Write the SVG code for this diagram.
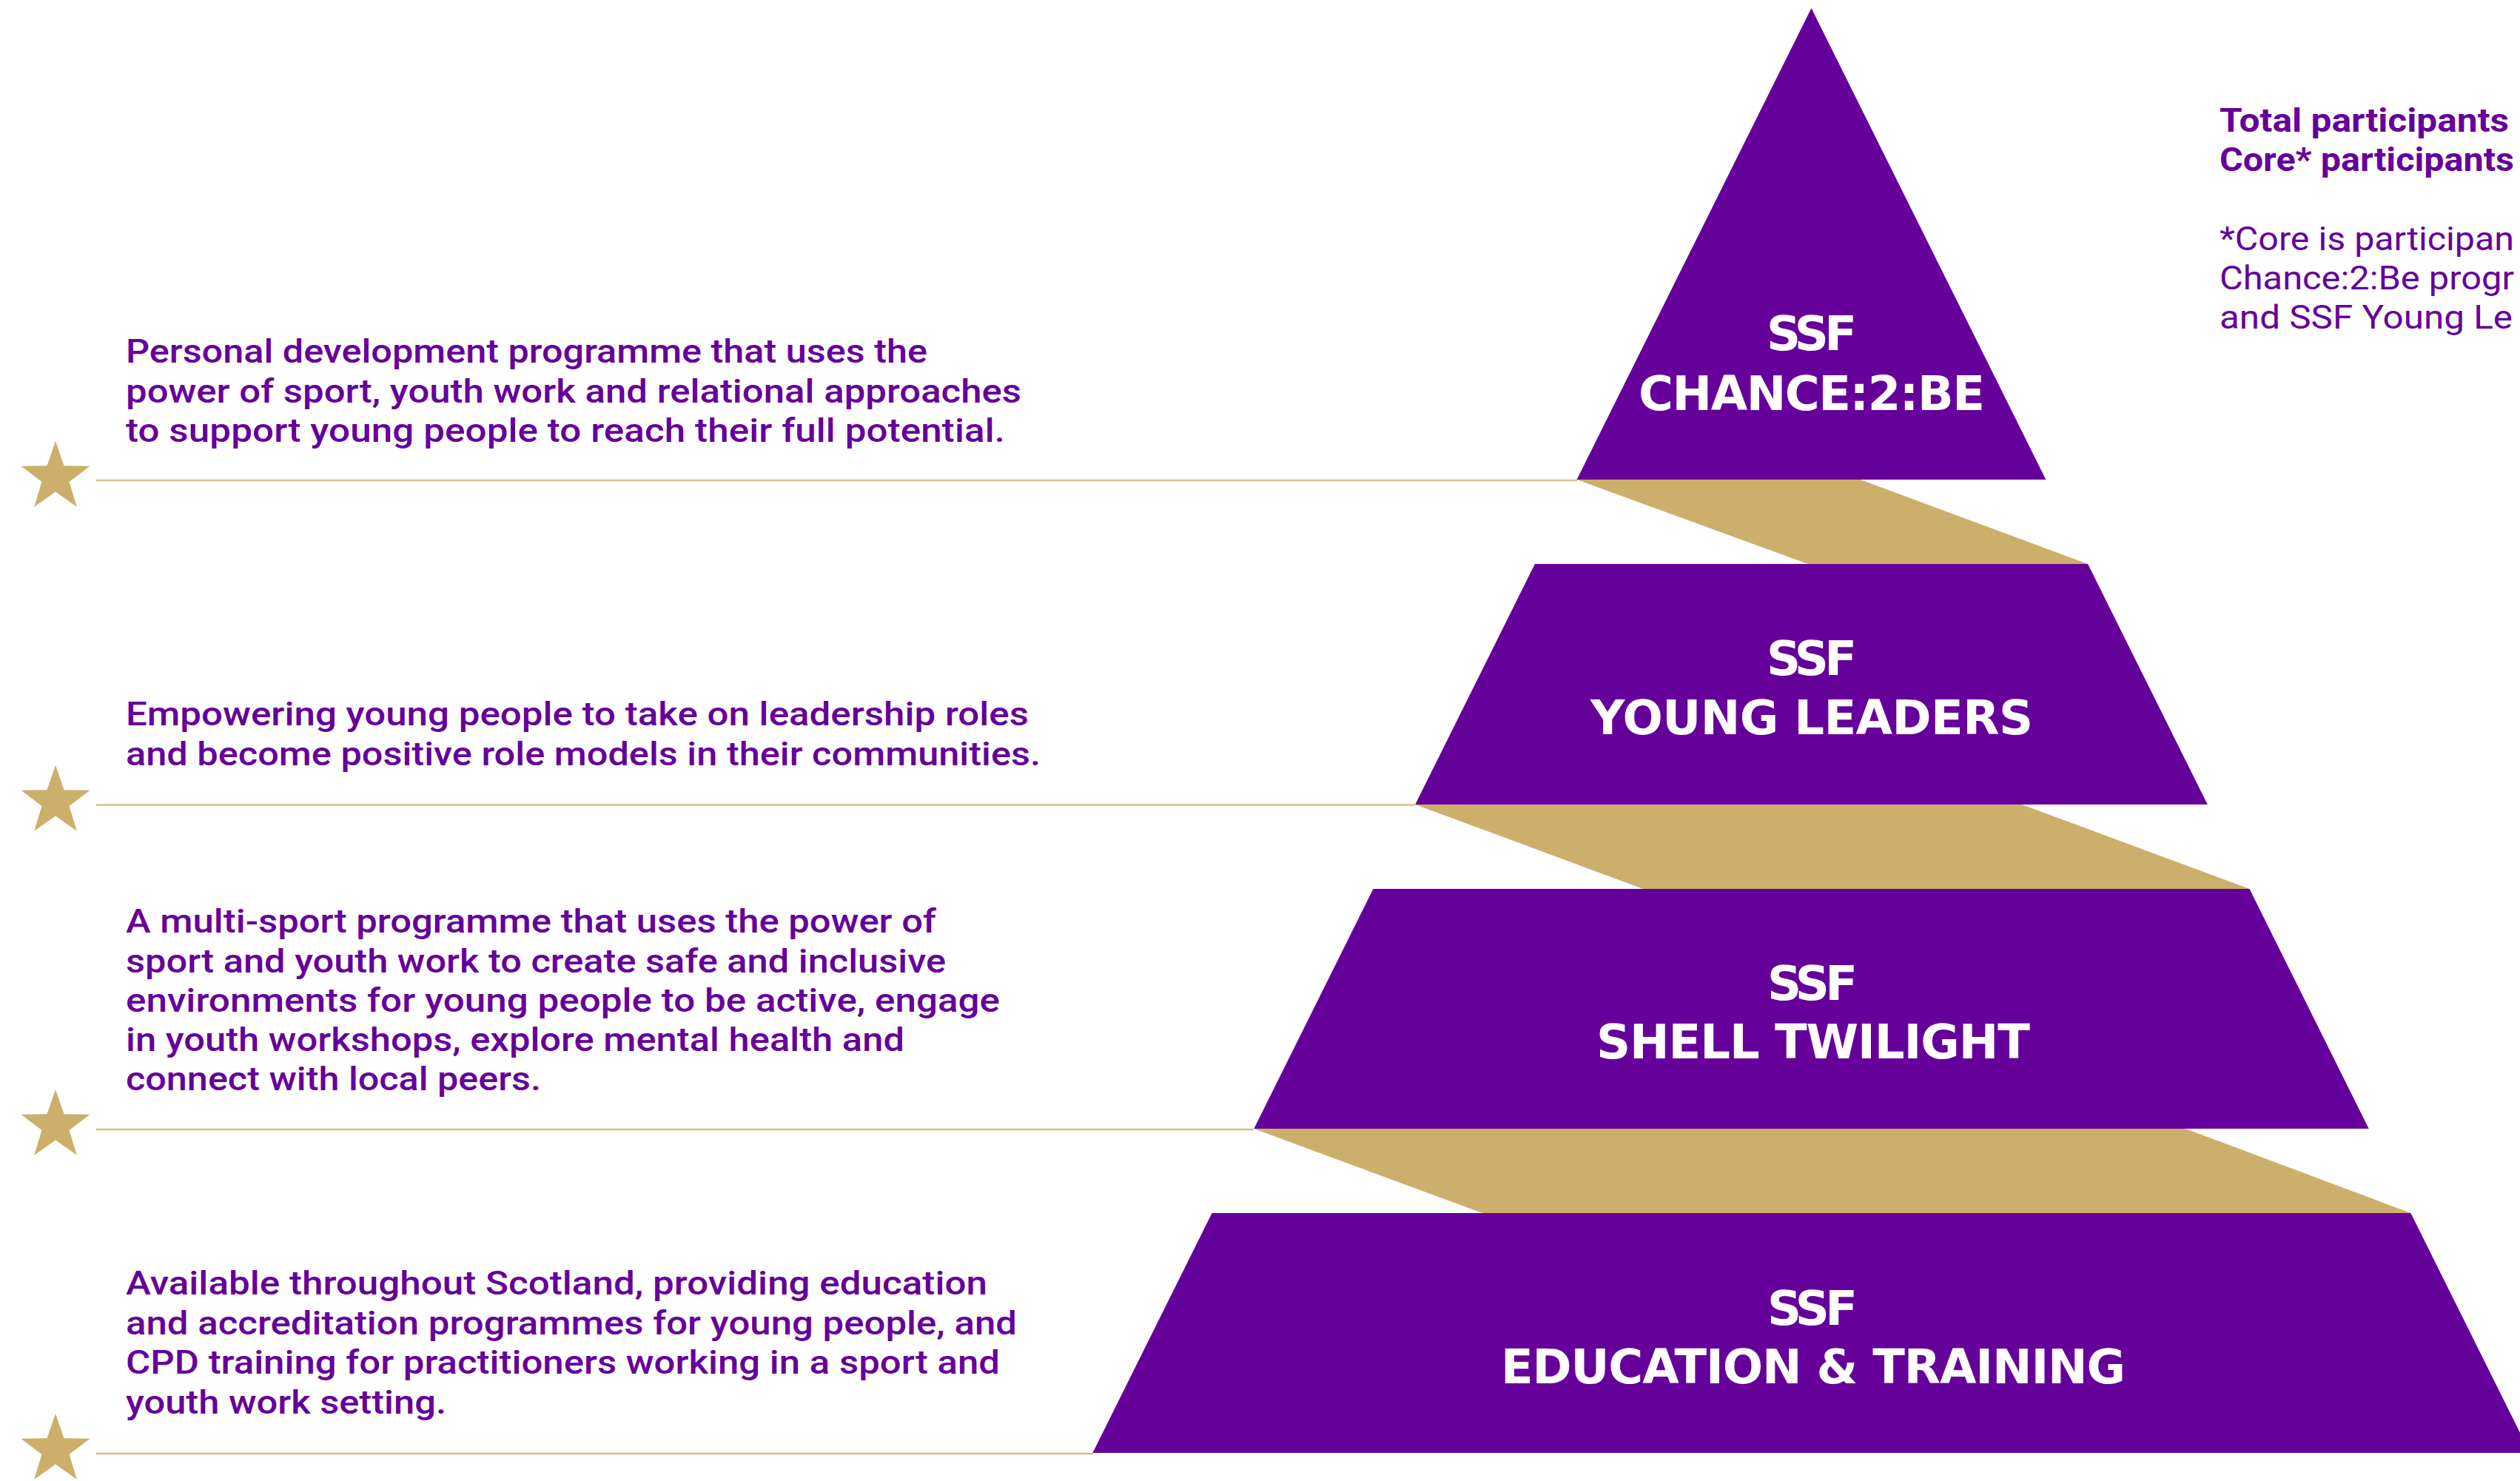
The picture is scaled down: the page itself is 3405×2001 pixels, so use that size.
<svg xmlns="http://www.w3.org/2000/svg" xmlns:xlink="http://www.w3.org/1999/xlink" width="3405" height="2001" viewBox="0 0 3405 2001">
<style>
.tier{fill:#66009B}
.band{fill:#CCAF6A}
.head{font-family:"DejaVu Sans","Liberation Sans",sans-serif;font-weight:700;font-size:64px;fill:#FFFFFF;text-anchor:middle}
.desc{font-family:Roboto,"Liberation Sans",sans-serif;font-weight:500;font-size:45px;fill:#66009B}
.stat{font-family:Roboto,"Liberation Sans",sans-serif;font-weight:700;font-size:45px;fill:#66009B}
.note{font-family:Roboto,"Liberation Sans",sans-serif;font-weight:400;font-size:45px;fill:#66009B}
.rule{stroke:#D4BF8A;stroke-width:2.5;fill:none}
.star{fill:#CCAF6A}
</style>
<defs>
<path id="star" d="M0,-49 L11.46,-15.78 L46.6,-15.14 L18.55,6.03 L28.8,39.64 L0,19.5 L-28.8,39.64 L-18.55,6.03 L-46.6,-15.14 L-11.46,-15.78 Z"/>
</defs>
<rect x="0" y="0" width="3405" height="2001" fill="#FFFFFF"/>

<g id="connectors">
<line class="rule" x1="130" y1="649" x2="2131" y2="649"/>
<line class="rule" x1="130" y1="1087.5" x2="1912" y2="1087.5"/>
<line class="rule" x1="130" y1="1526" x2="1694" y2="1526"/>
<line class="rule" x1="130" y1="1964" x2="1477" y2="1964"/>
</g>

<g id="bands">
<polygon class="band" points="2130.6,648 2514,648 2821.1,762 2443,762"/>
<polygon class="band" points="1912.2,1087 2732,1087 3039.5,1201 2220,1201"/>
<polygon class="band" points="1694.3,1525 2953,1525 3257.4,1639 2003,1639"/>
</g>

<g id="tier-chance2be">
<polygon class="tier" points="2447.5,11 2764.4,648 2130.6,648"/>
<text class="head" x="2448" y="473" textLength="122">SSF</text>
<text class="head" x="2448" y="554" textLength="468">CHANCE:2:BE</text>
</g>

<g id="tier-young-leaders">
<polygon class="tier" points="2073.9,762 2821.1,762 2982.8,1087 1912.2,1087"/>
<text class="head" x="2448" y="912" textLength="122">SSF</text>
<text class="head" x="2448" y="992" textLength="598">YOUNG LEADERS</text>
</g>

<g id="tier-shell-twilight">
<polygon class="tier" points="1855.5,1201 3039.5,1201 3200.7,1525 1694.3,1525"/>
<text class="head" x="2449" y="1351" textLength="122">SSF</text>
<text class="head" x="2450" y="1430" textLength="586">SHELL TWILIGHT</text>
</g>

<g id="tier-education-training">
<polygon class="tier" points="1637.6,1639 3257.4,1639 3418.6,1963 1476.4,1963"/>
<text class="head" x="2449" y="1790" textLength="122">SSF</text>
<text class="head" x="2450" y="1869" textLength="844">EDUCATION &amp; TRAINING</text>
</g>

<g id="desc-chance2be">
<use href="#star" xlink:href="#star" class="star" x="75" y="645"/>
<text class="desc" x="170" y="490" textLength="1083" lengthAdjust="spacingAndGlyphs">Personal development programme that uses the</text>
<text class="desc" x="170" y="543.5" textLength="1210" lengthAdjust="spacingAndGlyphs">power of sport, youth work and relational approaches</text>
<text class="desc" x="170" y="597" textLength="1188" lengthAdjust="spacingAndGlyphs">to support young people to reach their full potential.</text>
</g>

<g id="desc-young-leaders">
<use href="#star" xlink:href="#star" class="star" x="75" y="1083"/>
<text class="desc" x="170" y="980" textLength="1220" lengthAdjust="spacingAndGlyphs">Empowering young people to take on leadership roles</text>
<text class="desc" x="170" y="1034" textLength="1236" lengthAdjust="spacingAndGlyphs">and become positive role models in their communities.</text>
</g>

<g id="desc-shell-twilight">
<use href="#star" xlink:href="#star" class="star" x="75" y="1521"/>
<text class="desc" x="170" y="1260" textLength="1095" lengthAdjust="spacingAndGlyphs">A multi-sport programme that uses the power of</text>
<text class="desc" x="170" y="1313.5" textLength="1108" lengthAdjust="spacingAndGlyphs">sport and youth work to create safe and inclusive</text>
<text class="desc" x="170" y="1367" textLength="1181" lengthAdjust="spacingAndGlyphs">environments for young people to be active, engage</text>
<text class="desc" x="170" y="1420" textLength="1052" lengthAdjust="spacingAndGlyphs">in youth workshops, explore mental health and</text>
<text class="desc" x="170" y="1473" textLength="561" lengthAdjust="spacingAndGlyphs">connect with local peers.</text>
</g>

<g id="desc-education-training">
<use href="#star" xlink:href="#star" class="star" x="75" y="1959"/>
<text class="desc" x="170" y="1749" textLength="1164" lengthAdjust="spacingAndGlyphs">Available throughout Scotland, providing education</text>
<text class="desc" x="170" y="1802.5" textLength="1204" lengthAdjust="spacingAndGlyphs">and accreditation programmes for young people, and</text>
<text class="desc" x="170" y="1856" textLength="1181" lengthAdjust="spacingAndGlyphs">CPD training for practitioners working in a sport and</text>
<text class="desc" x="170" y="1910" textLength="433" lengthAdjust="spacingAndGlyphs">youth work setting.</text>
</g>

<g id="participants-note">
<text class="stat" x="2999" y="178" textLength="391" lengthAdjust="spacingAndGlyphs">Total participants</text>
<text class="stat" x="2999" y="231" textLength="398" lengthAdjust="spacingAndGlyphs">Core* participants</text>
<text class="note" x="2999" y="338" textLength="398" lengthAdjust="spacingAndGlyphs">*Core is participan</text>
<text class="note" x="2999" y="391" textLength="398" lengthAdjust="spacingAndGlyphs">Chance:2:Be progr</text>
<text class="note" x="2999" y="444" textLength="396" lengthAdjust="spacingAndGlyphs">and SSF Young Le</text>
</g>
</svg>
